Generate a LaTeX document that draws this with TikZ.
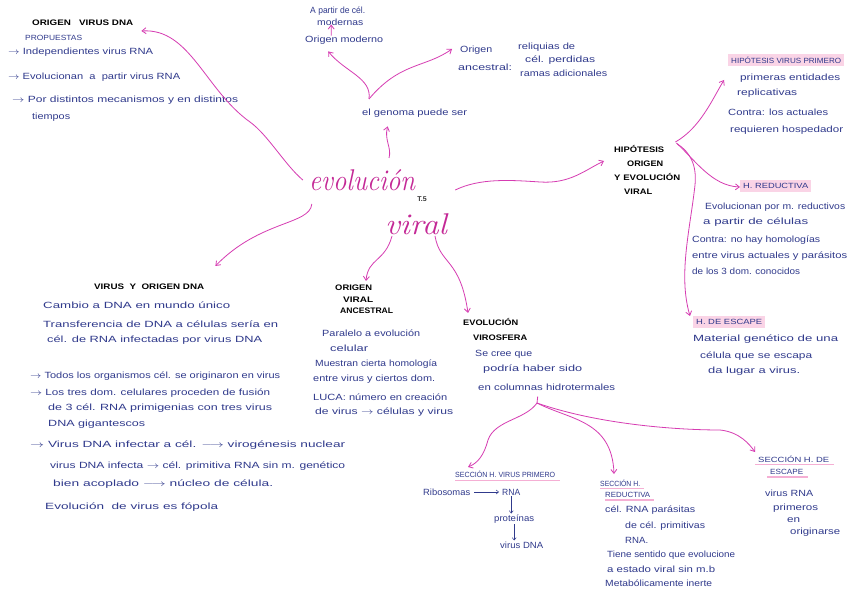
\documentclass[tikz,border=0pt]{standalone}
\usepackage{fontspec}
\usepackage{graphicx}
\usetikzlibrary{arrows.meta}
\newfontfamily\hand{Liberation Sans}
\definecolor{ink}{RGB}{48,58,140}
\definecolor{mag}{RGB}{214,60,178}
\definecolor{magd}{RGB}{196,40,150}
\definecolor{hl}{RGB}{250,212,230}
\definecolor{ulc}{RGB}{245,175,212}
\newcommand\tw[2]{\resizebox{#1pt}{\height}{#2}}
\begin{document}
\begin{tikzpicture}[x=1pt,y=-1pt,
 tx/.style={anchor=west, inner sep=0pt, text=ink, font=\hand\fontsize{9}{10}\selectfont},
 capt/.style={anchor=west, inner sep=0pt, text=ink, font=\hand\fontsize{7.5}{8}\selectfont},
 tt/.style={anchor=west, inner sep=0pt, text=black, font=\hand\bfseries\fontsize{8}{9}\selectfont},
 hlt/.style={fill=hl, inner xsep=3pt, inner ysep=3pt},
 cen/.style={inner sep=0pt, text=magd, font=\itshape\fontsize{30}{30}\selectfont},
 ar/.style={draw=mag, line width=0.8pt, -{Straight Barb[length=4pt,width=6pt]}},
 ia/.style={draw=ink, line width=0.5pt, -{Straight Barb[length=2.5pt,width=4pt]}},
 ulin/.style={draw=ulc, line width=1.6pt},
]
\fill[white] (0,0) rectangle (848,601);
\useasboundingbox (0,0) rectangle (848,601);

% centre
\node[cen] (evo) at (362,180) {\tw{106}{evolución}};
\node[cen] (vir) at (416,224) {\tw{62}{viral}};
\node[tt, anchor=center, font=\hand\bfseries\fontsize{7}{8}\selectfont, text=black!80] (t5) at (422,199) {T.5};

% top left
\node[tt] (ovd) at (32,23) {\tw{101}{ORIGEN\ \ \ VIRUS DNA}};
\node[capt] (prop) at (25,38) {\tw{57}{PROPUESTAS}};
\node[tx] (p1) at (8,52) {\tw{145}{$\rightarrow$ Independientes virus RNA}};
\node[tx] (p2) at (8,77) {\tw{172}{$\rightarrow$ Evolucionan\ \ a\ \ partir virus RNA}};
\node[tx] (p3) at (12,100) {\tw{226}{$\rightarrow$ Por distintos mecanismos y en distintos}};
\node[tx] (p4) at (32,117) {\tw{38}{tiempos}};

% top middle
\node[tx] (apc1) at (310,11) {\tw{55}{A partir de cél.}};
\node[tx] (apc2) at (317,22) {\tw{46}{modernas}};
\node[tx] (om) at (305,40) {\tw{78}{Origen moderno}};
\node[tx] (gen) at (362,113) {\tw{105}{el genoma puede ser}};
\coordinate (gb) at (369,99);
\node[tx] (oa1) at (460,50) {\tw{32}{Origen}};
\node[tx] (oa2) at (458,67) {\tw{54}{ancestral:}};
\node[tx] (rel1) at (518,47) {\tw{57}{reliquias de}};
\node[tx] (rel2) at (525,60) {\tw{70}{cél. perdidas}};
\node[tx] (rel3) at (520,73) {\tw{87}{ramas adicionales}};

% hypotheses
\node[tt, anchor=north west, align=left, font=\hand\bfseries\fontsize{8}{14}\selectfont] (hyp) at (614,145)
 {\tw{50}{HIPÓTESIS}\\\hspace{13pt}\tw{36}{ORIGEN}\\\tw{66}{Y EVOLUCIÓN}\\\hspace{10pt}\tw{28}{VIRAL}};
\node[capt, hlt] (hvp) at (728,60) {\tw{110}{HIPÓTESIS VIRUS PRIMERO}};
\node[tx] (h1) at (740,78) {\tw{100}{primeras entidades}};
\node[tx] (h2) at (737,93) {\tw{60}{replicativas}};
\node[tx] (h3) at (728,112) {\tw{100}{Contra: los actuales}};
\node[tx] (h4) at (730,130) {\tw{113}{requieren hospedador}};
\node[capt, hlt] (hred) at (740,186) {\tw{65}{H. REDUCTIVA}};
\node[tx] (r1) at (705,207) {\tw{140}{Evolucionan por m. reductivos}};
\node[tx] (r2) at (703,222) {\tw{105}{a partir de células}};
\node[tx] (r3) at (692,240) {\tw{128}{Contra: no hay homologías}};
\node[tx] (r4) at (692,256) {\tw{155}{entre virus actuales y parásitos}};
\node[tx] (r5) at (692,271) {\tw{108}{de los 3 dom. conocidos}};
\node[capt, hlt] (hesc) at (693,322) {\tw{66}{H. DE ESCAPE}};
\node[tx] (s1) at (693,339) {\tw{145}{Material genético de una}};
\node[tx] (s2) at (700,356) {\tw{112}{célula que se escapa}};
\node[tx] (s3) at (708,371) {\tw{92}{da lugar a virus.}};

% virus y origen DNA
\node[tt] (vyod) at (94,287) {\tw{110}{VIRUS\ \ Y\ \ ORIGEN DNA}};
\node[tx] (v1) at (43,305) {\tw{187}{Cambio a DNA en mundo único}};
\node[tx] (v2) at (43,324) {\tw{235}{Transferencia de DNA a células sería en}};
\node[tx] (v3) at (47,340) {\tw{215}{cél. de RNA infectadas por virus DNA}};
\node[tx] (v4) at (30,376) {\tw{250}{$\rightarrow$ Todos los organismos cél. se originaron en virus}};
\node[tx] (v5) at (30,393) {\tw{240}{$\rightarrow$ Los tres dom. celulares proceden de fusión}};
\node[tx] (v6) at (48,408) {\tw{224}{de 3 cél. RNA primigenias con tres virus}};
\node[tx] (v7) at (48,424) {\tw{97}{DNA gigantescos}};
\node[tx] (v8) at (30,445) {\tw{315}{$\rightarrow$ Virus DNA infectar a cél. $\longrightarrow$ virogénesis nuclear}};
\node[tx] (v9) at (50,466) {\tw{295}{virus DNA infecta $\rightarrow$ cél. primitiva RNA sin m. genético}};
\node[tx] (v10) at (53,484) {\tw{220}{bien acoplado $\longrightarrow$ núcleo de célula.}};
\node[tx] (v11) at (45,507) {\tw{173}{Evolución\ \ de virus es fópola}};

% origen viral ancestral
\node[tt, anchor=north west, align=left, font=\hand\bfseries\fontsize{8}{11.5}\selectfont] (ova) at (335,285)
 {\tw{37}{ORIGEN}\\\hspace{8pt}\tw{30}{VIRAL}\\\hspace{5pt}\tw{53}{ANCESTRAL}};
\node[tx] (o1) at (322,333) {\tw{98}{Paralelo a evolución}};
\node[tx] (o2) at (330,348) {\tw{38}{celular}};
\node[tx] (o3) at (315,364) {\tw{122}{Muestran cierta homología}};
\node[tx] (o4) at (313,379) {\tw{122}{entre virus y ciertos dom.}};
\node[tx] (o5) at (313,397) {\tw{134}{LUCA: número en creación}};
\node[tx] (o6) at (315,412) {\tw{138}{de virus $\rightarrow$ células y virus}};

% evolucion virosfera
\node[tt, anchor=north west, align=left, font=\hand\bfseries\fontsize{8}{15}\selectfont] (ev) at (463,318)
 {\tw{55}{EVOLUCIÓN}\\\hspace{10pt}\tw{54}{VIROSFERA}};
\node[tx] (e3) at (475,354) {\tw{57}{Se cree que}};
\node[tx] (e4) at (483,369) {\tw{99}{podría haber sido}};
\node[tx] (e5) at (478,387) {\tw{137}{en columnas hidrotermales}};
\coordinate (br) at (537,403);

% secciones
\node[capt] (shvp) at (455,474) {\tw{100}{SECCIÓN H. VIRUS PRIMERO}};
\node[tx] (rib) at (423,492) {\tw{47}{Ribosomas}};
\node[tx] (rna) at (502,492) {\tw{18}{RNA}};
\node[tx] (pro) at (494,519) {\tw{40}{proteínas}};
\node[tx] (vdna) at (500,545) {\tw{43}{virus DNA}};
\node[capt] (shr1) at (600,483) {\tw{40}{SECCIÓN H.}};
\node[capt] (shr2) at (605,495) {\tw{45}{REDUCTIVA}};
\node[tx] (shr3) at (605,510) {\tw{90}{cél. RNA parásitas}};
\node[tx] (shr4) at (625,526) {\tw{80}{de cél. primitivas}};
\node[tx] (shr5) at (625,540) {\tw{23}{RNA.}};
\node[tx] (shr6) at (607,555) {\tw{128}{Tiene sentido que evolucione}};
\node[tx] (shr7) at (607,569) {\tw{108}{a estado viral sin m.b}};
\node[tx] (shr8) at (605,583) {\tw{107}{Metabólicamente inerte}};
\node[capt] (she1) at (758,459) {\tw{71}{SECCIÓN H. DE}};
\node[capt] (she2) at (770,472) {\tw{33}{ESCAPE}};
\node[tx] (she3) at (765,493) {\tw{48}{virus RNA}};
\node[tx] (she4) at (773,508) {\tw{45}{primeros}};
\node[tx] (she5) at (787,520) {\tw{13}{en}};
\node[tx] (she6) at (790,532) {\tw{50}{originarse}};

% underlines
\draw[ulin] ([shift={(0,3)}]shvp.south west) -- ([shift={(5,3)}]shvp.south east);
\draw[ulin] ([shift={(0,2)}]shr1.south west) -- ([shift={(4,2)}]shr1.south east);
\draw[ulin] ([shift={(0,2)}]shr2.south west) -- ([shift={(4,2)}]shr2.south east);
\draw[ulin] ([shift={(-3,2)}]she1.south west) -- ([shift={(5,2)}]she1.south east);
\draw[ulin] ([shift={(-3,2)}]she2.south west) -- ([shift={(5,2)}]she2.south east);

% connectors
\draw[ar] ([shift={(-6,0)}]evo.west) .. controls (285,165) and (268,135) .. (250,122)
  .. controls (205,90) and (190,28) .. ([shift={(8,8)}]ovd.east);
\draw[ar] ([shift={(27,-22)}]evo.center) .. controls (392,148) and (384,140) .. ([shift={(-27,9)}]gen.south);
\draw[ar] (gb) .. controls (372,78) and (345,72) .. ([shift={(-16,7)}]om.south);
\draw[ar] (gb) .. controls (400,62) and (425,68) .. ([shift={(-8,-1)}]oa1.west);
\draw[ar] ([shift={(-13,0)}]om.north) -- ([shift={(-9,-1)}]apc2.south);
\draw[ar] ([shift={(40,10)}]evo.east) .. controls (480,178) and (510,180) .. (540,182)
  .. controls (570,184) and (585,170) .. ([shift={(-10,16)}]hyp.north west);
\draw[ar] ([shift={(-5,-3)}]hyp.north east) .. controls (700,128) and (712,100) .. ([shift={(-4,20)}]hvp.west);
\draw[ar] ([shift={(-4,-2)}]hyp.north east) .. controls (695,160) and (712,186) .. ([shift={(0,1)}]hred.west);
\draw[ar] ([shift={(-3,-1)}]hyp.north east) .. controls (690,152) and (697,165) .. (695,185)
  .. controls (690,230) and (678,275) .. ([shift={(-3,-6)}]hesc.west);
\draw[ar] ([shift={(3,24)}]evo.west) .. controls (310,225) and (260,220) .. ([shift={(11,-21)}]vyod.east);
\draw[ar] ([shift={(-24,12)}]vir.center) .. controls (385,262) and (368,258) .. ([shift={(31,-4)}]ova.north west);
\draw[ar] ([shift={(19,12)}]vir.center) .. controls (440,265) and (460,258) .. ([shift={(5,-5)}]ev.north west);
\draw[ar] (br) .. controls (525,420) and (495,420) .. (488,440)
  .. controls (484,455) and (478,463) .. ([shift={(13,-7)}]shvp.west);
\draw[ar] (br) .. controls (570,420) and (612,420) .. ([shift={(14,-9)}]shr1.west);
\draw[ar] (br) .. controls (600,425) and (680,430) .. (720,430)
  .. controls (740,432) and (750,445) .. ([shift={(-3,-7)}]she1.west);
\draw[draw=mag, line width=0.8pt] ([shift={(-9,6)}]e5.south) -- (br);

% text arrows
\draw[ia] ([shift={(4,0)}]rib.east) -- ([shift={(-3,0)}]rna.west);
\draw[ia] ([shift={(0,1)}]rna.south) -- ([shift={(0,-1)}]rna.south |- pro.north);
\draw[ia] ([shift={(0,1)}]pro.south) -- ([shift={(0,-1)}]pro.south |- vdna.north);
\end{tikzpicture}
\end{document}
